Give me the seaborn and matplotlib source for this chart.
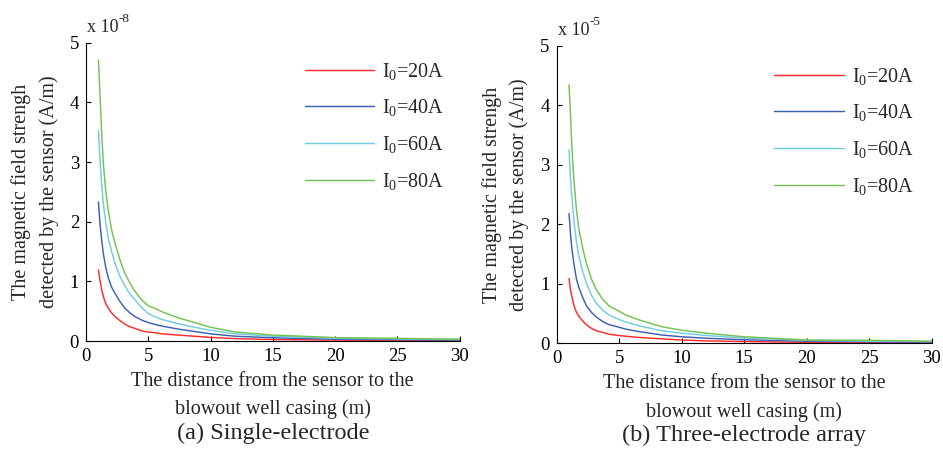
import numpy as np
import pandas as pd
import matplotlib
matplotlib.use("Agg")
import matplotlib.pyplot as plt
import matplotlib.transforms as mtransforms
import seaborn as sns

# ---- data (values in units of 1e-8 A/m for (a), 1e-5 A/m for (b)) ----
series_labels = ["I$_0$=20A", "I$_0$=40A", "I$_0$=60A", "I$_0$=80A"]
colors = ["#FF2A2A", "#3F5FB5", "#72CDE0", "#74C254"]

x_single = [1, 1.12, 1.26, 1.39, 1.58, 1.79, 2.06, 2.33, 2.73, 3.13, 3.53, 3.94,
            4.47, 5, 5.5, 6.1, 7.4, 8.7, 10, 12, 15, 20, 25, 30]
single_20 = [1.19, 1.02, 0.86, 0.75, 0.63, 0.55, 0.47, 0.41, 0.34, 0.28, 0.24, 0.21,
             0.17, 0.15, 0.14, 0.12, 0.10, 0.08, 0.06, 0.04, 0.025, 0.015, 0.010, 0.008]
single_40 = [2.33, 1.97, 1.69, 1.47, 1.24, 1.06, 0.90, 0.80, 0.66, 0.55, 0.47, 0.41,
             0.35, 0.31, 0.28, 0.25, 0.20, 0.16, 0.12, 0.08, 0.055, 0.030, 0.022, 0.015]
single_60 = [3.53, 3.05, 2.62, 2.31, 2.00, 1.72, 1.50, 1.30, 1.08, 0.92, 0.79, 0.69,
             0.56, 0.46, 0.41, 0.36, 0.29, 0.23, 0.18, 0.12, 0.080, 0.045, 0.035, 0.025]
single_80 = [4.71, 4.15, 3.48, 2.98, 2.53, 2.19, 1.86, 1.64, 1.36, 1.13, 0.97, 0.83,
             0.69, 0.59, 0.55, 0.49, 0.39, 0.31, 0.23, 0.15, 0.100, 0.057, 0.045, 0.030]

x_three = [1, 1.11, 1.21, 1.37, 1.59, 1.8, 2.07, 2.39, 2.79, 3.19, 3.72, 4.25,
           5, 5.5, 6.5, 8.4, 10, 12, 15, 20, 25, 30]
three_20 = [1.09, 0.90, 0.80, 0.65, 0.52, 0.45, 0.38, 0.31, 0.25, 0.21, 0.18, 0.15,
            0.13, 0.12, 0.10, 0.075, 0.055, 0.04, 0.03, 0.015, 0.012, 0.010]
three_40 = [2.18, 1.85, 1.62, 1.36, 1.08, 0.93, 0.78, 0.63, 0.52, 0.44, 0.36, 0.31,
            0.27, 0.24, 0.20, 0.14, 0.11, 0.085, 0.06, 0.035, 0.025, 0.020]
three_60 = [3.25, 2.80, 2.50, 2.10, 1.70, 1.45, 1.22, 1.01, 0.81, 0.67, 0.55, 0.47,
            0.40, 0.36, 0.30, 0.21, 0.17, 0.13, 0.09, 0.050, 0.035, 0.030]
three_80 = [4.34, 3.86, 3.36, 2.80, 2.24, 1.90, 1.62, 1.34, 1.08, 0.90, 0.73, 0.62,
            0.54, 0.48, 0.40, 0.28, 0.22, 0.17, 0.11, 0.055, 0.050, 0.035]

x_ticks = [0, 5, 10, 15, 20, 25, 30]
y_ticks = [0, 1, 2, 3, 4, 5]

ylabel = "The magnetic field strengh\ndetected by the sensor (A/m)"
xlabel = "The distance from the sensor to the\nblowout well casing (m)"
captions = ["(a) Single-electrode", "(b) Three-electrode array"]
exponents = ["-8", "-5"]


def long_form(x, ys):
    frames = []
    for lab, y in zip(series_labels, ys):
        frames.append(pd.DataFrame({"x": x, "y": y, "series": lab}))
    return pd.concat(frames, ignore_index=True)


df_a = long_form(x_single, [single_20, single_40, single_60, single_80])
df_b = long_form(x_three, [three_20, three_40, three_60, three_80])

sns.set_theme(style="ticks")
plt.rcParams["font.family"] = ["Liberation Serif", "DejaVu Serif"]
plt.rcParams["mathtext.fontset"] = "custom"
plt.rcParams["mathtext.rm"] = "Liberation Serif"
plt.rcParams["mathtext.it"] = "Liberation Serif"
plt.rcParams["xtick.direction"] = "in"
plt.rcParams["ytick.direction"] = "in"

fig = plt.figure(figsize=(9.43, 4.69), dpi=100)
ax_a = fig.add_axes([0.0912, 0.2729, 0.3961, 0.636])
ax_b = fig.add_axes([0.5902, 0.2680, 0.3977, 0.6345])

legend_anchor = [(0.585, 0.94), (0.58, 0.933)]

for ax, df, cap, ex, anc in zip([ax_a, ax_b], [df_a, df_b], captions, exponents, legend_anchor):
    sns.lineplot(data=df, x="x", y="y", hue="series", palette=colors,
                 ax=ax, linewidth=1.05, legend=True)
    ax.set_xlim(0, 30)
    ax.set_ylim(0, 5)
    ax.set_xticks(x_ticks)
    ax.set_yticks(y_ticks)
    ax.tick_params(labelsize=13.5, length=3.5, width=0.8, colors="black", pad=5)
    for s in ["top", "right"]:
        ax.spines[s].set_visible(False)
    for s in ["left", "bottom"]:
        ax.spines[s].set_color("black")
        ax.spines[s].set_linewidth(0.8)
    ax.set_ylabel(ylabel, fontsize=14.5, linespacing=1.5, labelpad=8)
    ax.set_xlabel(xlabel, fontsize=14.5, linespacing=1.6, labelpad=5)
    ax.text(0.003, 1.035, "x 10", transform=ax.transAxes,
            fontsize=13, ha="left", va="baseline")
    sup_tr = mtransforms.offset_copy(ax.transAxes, fig=fig, x=23.5, y=7.5, units="points")
    ax.text(0.0, 1.035, ex, transform=sup_tr, fontsize=9.5, ha="left", va="baseline")
    ax.text(0.5, -0.31, cap, transform=ax.transAxes, fontsize=17.5,
            ha="center", va="center")
    leg = ax.legend(loc="upper left", bbox_to_anchor=anc, frameon=False,
                    fontsize=14.5, handlelength=3.45, handletextpad=0.4,
                    labelspacing=0.78, borderpad=0, borderaxespad=0)
    for line in leg.get_lines():
        line.set_linewidth(1.05)

fig.savefig("out.png", dpi=100)
